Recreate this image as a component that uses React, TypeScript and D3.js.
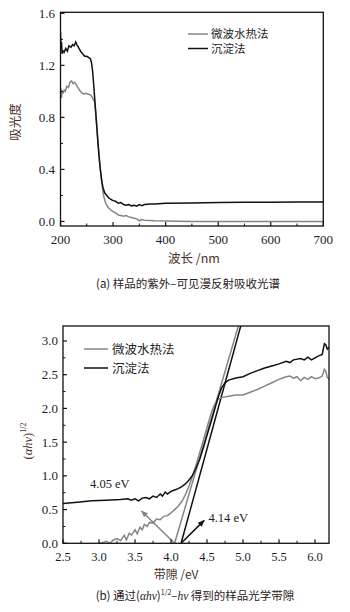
import React from "react";
import * as d3 from "d3";

// ---------- Panel (a) data ----------
const wavelengthBlack = [200, 201, 202, 203, 205, 207, 210, 213, 216, 220, 223, 226, 229, 231, 234, 238, 242, 246, 250, 254, 257, 259, 261, 263, 265, 267, 269, 271, 273, 275, 277, 279, 281, 284, 288, 292, 296, 300, 305, 310, 315, 320, 325, 330, 335, 340, 345, 350, 355, 360, 370, 380, 400, 450, 500, 550, 600, 650, 700];
const absBlack = [1.46, 1.33, 1.38, 1.29, 1.31, 1.30, 1.33, 1.31, 1.35, 1.34, 1.36, 1.35, 1.38, 1.36, 1.34, 1.31, 1.29, 1.27, 1.27, 1.26, 1.25, 1.22, 1.16, 1.06, 0.95, 0.84, 0.73, 0.62, 0.52, 0.43, 0.36, 0.30, 0.26, 0.22, 0.20, 0.18, 0.17, 0.16, 0.155, 0.14, 0.145, 0.13, 0.125, 0.13, 0.12, 0.125, 0.118, 0.13, 0.122, 0.13, 0.135, 0.135, 0.14, 0.142, 0.145, 0.147, 0.148, 0.15, 0.15];

const wavelengthGray = [200, 201, 202, 203, 205, 207, 209, 212, 215, 218, 221, 224, 227, 230, 233, 236, 240, 244, 248, 252, 256, 259, 262, 265, 267, 269, 271, 273, 275, 277, 279, 281, 283, 286, 290, 295, 300, 305, 310, 315, 320, 325, 330, 335, 340, 345, 350, 355, 360, 370, 380, 400, 450, 500, 600, 700];
const absGray = [0.97, 1.02, 0.95, 1.00, 0.99, 1.01, 1.00, 1.04, 1.03, 1.07, 1.08, 1.06, 1.07, 1.05, 1.03, 1.01, 0.99, 0.98, 0.985, 0.98, 0.975, 0.965, 0.94, 0.92, 0.84, 0.73, 0.62, 0.52, 0.43, 0.35, 0.28, 0.22, 0.18, 0.14, 0.11, 0.09, 0.075, 0.065, 0.05, 0.045, 0.04, 0.045, 0.035, 0.03, 0.025, 0.02, 0.005, 0.015, 0.01, 0.008, 0.005, 0.003, 0.0, 0.0, 0.0, 0.0];

const xTicksA = [200, 300, 400, 500, 600, 700];
const yTicksA = [0.0, 0.4, 0.8, 1.2, 1.6];

// ---------- Panel (b) data ----------
const evBlack = [2.5, 2.7, 2.9, 3.1, 3.3, 3.4, 3.45, 3.5, 3.55, 3.6, 3.65, 3.7, 3.75, 3.8, 3.85, 3.88, 3.92, 3.95, 4.0, 4.05, 4.1, 4.15, 4.2, 4.25, 4.3, 4.35, 4.4, 4.45, 4.5, 4.55, 4.6, 4.65, 4.7, 4.75, 4.8, 4.9, 5.0, 5.1, 5.2, 5.3, 5.4, 5.5, 5.6, 5.65, 5.7, 5.8, 5.85, 5.9, 5.95, 6.0, 6.05, 6.1, 6.13, 6.15, 6.17, 6.2];
const valBlack = [0.59, 0.61, 0.63, 0.64, 0.65, 0.66, 0.64, 0.66, 0.63, 0.67, 0.68, 0.66, 0.70, 0.68, 0.73, 0.70, 0.76, 0.73, 0.77, 0.79, 0.81, 0.84, 0.88, 0.94, 1.01, 1.12, 1.25, 1.42, 1.60, 1.78, 1.96, 2.15, 2.30, 2.38, 2.42, 2.45, 2.47, 2.52, 2.56, 2.60, 2.63, 2.66, 2.70, 2.68, 2.72, 2.74, 2.72, 2.76, 2.72, 2.75, 2.78, 2.80, 2.96, 2.94, 2.88, 2.91];

const evGray = [3.0, 3.05, 3.1, 3.15, 3.2, 3.25, 3.3, 3.35, 3.38, 3.42, 3.45, 3.5, 3.53, 3.57, 3.6, 3.63, 3.67, 3.7, 3.75, 3.8, 3.85, 3.9, 3.95, 4.0, 4.05, 4.1, 4.15, 4.2, 4.25, 4.3, 4.35, 4.4, 4.45, 4.5, 4.55, 4.6, 4.65, 4.7, 4.8, 4.9, 5.0, 5.1, 5.2, 5.3, 5.4, 5.5, 5.55, 5.6, 5.65, 5.7, 5.75, 5.8, 5.85, 5.9, 5.95, 6.0, 6.05, 6.1, 6.13, 6.15, 6.17, 6.2];
const valGray = [0.0, 0.01, 0.03, 0.0, 0.05, 0.07, 0.04, 0.12, 0.05, 0.15, 0.12, 0.20, 0.14, 0.24, 0.20, 0.28, 0.25, 0.31, 0.30, 0.36, 0.35, 0.40, 0.41, 0.45, 0.50, 0.55, 0.62, 0.72, 0.85, 1.00, 1.17, 1.35, 1.53, 1.72, 1.90, 2.05, 2.13, 2.16, 2.18, 2.20, 2.20, 2.24, 2.28, 2.33, 2.38, 2.43, 2.45, 2.47, 2.48, 2.45, 2.47, 2.41, 2.46, 2.43, 2.47, 2.44, 2.45, 2.48, 2.58, 2.55, 2.46, 2.43];

// tangent lines: x-intercept (band gap) and x where they leave the top
const tangentX0 = [4.05, 4.14];
const tangentXTop = [4.935, 4.968];
// arrows: from band gap point to arrow tip
const arrowTipX = [3.59, 4.46];
const arrowTipY = [0.48, 0.34];
const gapLabels = ["4.05 eV", "4.14 eV"];

const xTicksB = [2.5, 3.0, 3.5, 4.0, 4.5, 5.0, 5.5, 6.0];
const yTicksB = [0.0, 0.5, 1.0, 1.5, 2.0, 2.5, 3.0];

const seriesNames = ["微波水热法", "沉淀法"];
const GRAY = "#858585";
const BLACK = "#111";
const NUM_FONT = "Liberation Serif, DejaVu Serif, Times New Roman, serif";
const CJK_FONT = "Noto Sans CJK SC, sans-serif";
const TICK_COLOR = "#1c1c2c";
const TITLE_COLOR = "#4a3028";

function Frame({ x0, x1, y0, y1 }: any) {
  return <rect x={x0} y={y0} width={x1 - x0} height={y1 - y0} fill="none" stroke="#111" strokeWidth={1.3} />;
}

export default function App() {
  // ---------- scales (a) ----------
  const xa = d3.scaleLinear().domain([200, 700]).range([60.5, 323.3]);
  const ya = d3.scaleLinear().domain([-0.035, 1.608]).range([226, 12.3]);
  const lineA = (xs: number[], ys: number[]) =>
    d3.line<number>().x((_, i) => xa(xs[i])).y((_, i) => ya(ys[i]))(xs) as string;

  // ---------- scales (b) ----------
  const xb = d3.scaleLinear().domain([2.5, 6.194]).range([63, 329]);
  const yb = d3.scaleLinear().domain([0, 3.222]).range([543.3, 326]);
  const lineB = (xs: number[], ys: number[]) =>
    d3.line<number>().x((_, i) => xb(xs[i])).y((_, i) => yb(ys[i]))(xs) as string;

  const minorA_x = d3.range(250, 700, 100);
  const minorA_y = [0.2, 0.6, 1.0, 1.4];
  const minorB_x = d3.range(2.75, 6.2, 0.5);
  const minorB_y = [0.25, 0.75, 1.25, 1.75, 2.25, 2.75];

  const [ax0, ax1] = xa.range();
  const [ay0, ay1] = ya.range();
  const [bx0, bx1] = xb.range();
  const [by0, by1] = yb.range();

  return (
    <svg width={350} height={612} style={{ position: "absolute", left: 0, top: 0, background: "#fff" }}>
      <defs>
        <clipPath id="clipA"><rect x={ax0} y={ay1} width={ax1 - ax0} height={ay0 - ay1} /></clipPath>
        <clipPath id="clipB"><rect x={bx0} y={by1} width={bx1 - bx0} height={by0 - by1} /></clipPath>
        <marker id="arrGray" viewBox="0 0 10 10" refX="9" refY="5" markerWidth="7" markerHeight="7" orient="auto" markerUnits="userSpaceOnUse">
          <path d="M0,1 L10,5 L0,9 Z" fill={GRAY} />
        </marker>
        <marker id="arrBlack" viewBox="0 0 10 10" refX="9" refY="5" markerWidth="7" markerHeight="7" orient="auto" markerUnits="userSpaceOnUse">
          <path d="M0,1 L10,5 L0,9 Z" fill={BLACK} />
        </marker>
      </defs>

      {/* ================= Panel (a) ================= */}
      <g clipPath="url(#clipA)">
        <path d={lineA(wavelengthGray, absGray)} fill="none" stroke={GRAY} strokeWidth={1.5} />
        <path d={lineA(wavelengthBlack, absBlack)} fill="none" stroke={BLACK} strokeWidth={1.5} />
      </g>
      {xTicksA.map((t) => (
        <g key={"xa" + t}>
          <line x1={xa(t)} x2={xa(t)} y1={ay0} y2={ay0 - 4} stroke="#111" strokeWidth={1.2} />
          <text x={xa(t)} y={244} textAnchor="middle" fontFamily={NUM_FONT} fontSize={13} fill={TICK_COLOR}>{t}</text>
        </g>
      ))}
      {minorA_x.map((t) => (
        <line key={"mxa" + t} x1={xa(t)} x2={xa(t)} y1={ay0} y2={ay0 - 2.5} stroke="#111" strokeWidth={1} />
      ))}
      {yTicksA.map((t) => (
        <g key={"ya" + t}>
          <line x1={ax0} x2={ax0 + 4} y1={ya(t)} y2={ya(t)} stroke="#111" strokeWidth={1.2} />
          <text x={55} y={ya(t) + 4.5} textAnchor="end" fontFamily={NUM_FONT} fontSize={13} fill={TICK_COLOR}>{t.toFixed(1)}</text>
        </g>
      ))}
      {minorA_y.map((t) => (
        <line key={"mya" + t} x1={ax0} x2={ax0 + 2.5} y1={ya(t)} y2={ya(t)} stroke="#111" strokeWidth={1} />
      ))}
      <Frame x0={ax0} x1={ax1} y0={ay1} y1={ay0} />
      {/* legend (a) */}
      <line x1={188} x2={208} y1={34} y2={34} stroke={GRAY} strokeWidth={1.5} />
      <text x={211} y={38} fontFamily={CJK_FONT} fontSize={11.5} fill="#222">{seriesNames[0]}</text>
      <line x1={188} x2={208} y1={48.5} y2={48.5} stroke={BLACK} strokeWidth={1.5} />
      <text x={211} y={52.5} fontFamily={CJK_FONT} fontSize={11.5} fill="#222">{seriesNames[1]}</text>
      {/* axis titles (a) */}
      <text x={194} y={263} textAnchor="middle" fontFamily={CJK_FONT} fontSize={12.5} fill={TITLE_COLOR}>
        波长 /nm
      </text>
      <text transform="translate(20,122) rotate(-90)" textAnchor="middle" fontFamily={CJK_FONT} fontSize={12.5} fill={TITLE_COLOR}>
        吸光度
      </text>
      <text x={188} y={287.5} textAnchor="middle" fontFamily={CJK_FONT} fontSize={11.5} fill="#2a2020">
        (a) 样品的紫外–可见漫反射吸收光谱
      </text>

      {/* ================= Panel (b) ================= */}
      <g clipPath="url(#clipB)">
        {tangentX0.map((x0, i) => (
          <line key={"tan" + i} x1={xb(x0)} y1={yb(0)} x2={xb(tangentXTop[i])} y2={yb(3.222)}
            stroke={i === 0 ? GRAY : BLACK} strokeWidth={1.5} />
        ))}
        <path d={lineB(evGray, valGray)} fill="none" stroke={GRAY} strokeWidth={1.5} />
        <path d={lineB(evBlack, valBlack)} fill="none" stroke={BLACK} strokeWidth={1.5} />
        {tangentX0.map((x0, i) => (
          <line key={"arr" + i} x1={xb(x0)} y1={yb(0)} x2={xb(arrowTipX[i])} y2={yb(arrowTipY[i])}
            stroke={i === 0 ? GRAY : BLACK} strokeWidth={1.5}
            markerEnd={i === 0 ? "url(#arrGray)" : "url(#arrBlack)"} />
        ))}
      </g>
      <text x={xb(3.15)} y={yb(0.88) + 4} textAnchor="middle" fontFamily={NUM_FONT} fontSize={12.5} fill="#222">{gapLabels[0]}</text>
      <text x={xb(4.52)} y={yb(0.38) + 4} textAnchor="start" fontFamily={NUM_FONT} fontSize={12.5} fill="#222">{gapLabels[1]}</text>

      {xTicksB.map((t) => (
        <g key={"xb" + t}>
          <line x1={xb(t)} x2={xb(t)} y1={by0} y2={by0 - 4} stroke="#111" strokeWidth={1.2} />
          <text x={xb(t)} y={560.5} textAnchor="middle" fontFamily={NUM_FONT} fontSize={12.5} fill={TICK_COLOR}>{t.toFixed(1)}</text>
        </g>
      ))}
      {minorB_x.map((t) => (
        <line key={"mxb" + t} x1={xb(t)} x2={xb(t)} y1={by0} y2={by0 - 2.5} stroke="#111" strokeWidth={1} />
      ))}
      {yTicksB.map((t) => (
        <g key={"yb" + t}>
          <line x1={bx0} x2={bx0 + 4} y1={yb(t)} y2={yb(t)} stroke="#111" strokeWidth={1.2} />
          <text x={58} y={yb(t) + 4.5} textAnchor="end" fontFamily={NUM_FONT} fontSize={13} fill={TICK_COLOR}>{t.toFixed(1)}</text>
        </g>
      ))}
      {minorB_y.map((t) => (
        <line key={"myb" + t} x1={bx0} x2={bx0 + 2.5} y1={yb(t)} y2={yb(t)} stroke="#111" strokeWidth={1} />
      ))}
      <Frame x0={bx0} x1={bx1} y0={by1} y1={by0} />
      {/* legend (b) */}
      <line x1={84} x2={108} y1={349} y2={349} stroke={GRAY} strokeWidth={1.5} />
      <text x={112} y={353.5} fontFamily={CJK_FONT} fontSize={12.5} fill="#222">{seriesNames[0]}</text>
      <line x1={84} x2={108} y1={368} y2={368} stroke={BLACK} strokeWidth={1.5} />
      <text x={112} y={372.5} fontFamily={CJK_FONT} fontSize={12.5} fill="#222">{seriesNames[1]}</text>
      {/* axis titles (b) */}
      <text x={176} y={579} textAnchor="middle" fontFamily={CJK_FONT} fontSize={12} fill={TITLE_COLOR}>
        带隙 /eV
      </text>
      <text transform="translate(32,441) rotate(-90)" textAnchor="middle" fontFamily={NUM_FONT} fontSize={12.5} fill={TITLE_COLOR}>
        (<tspan fontStyle="italic">αhν</tspan>)<tspan fontSize={8} dy={-6}>1/2</tspan>
      </text>
      <text x={195} y={600} textAnchor="middle" fontFamily={CJK_FONT} fontSize={11.5} fill="#2a2020">
        (b) 通过(<tspan fontFamily={NUM_FONT} fontStyle="italic">αhν</tspan>)<tspan fontSize={7} dy={-5}>1/2</tspan><tspan dy={5}>–</tspan><tspan fontFamily={NUM_FONT} fontStyle="italic">hν</tspan> 得到的样品光学带隙
      </text>
    </svg>
  );
}
